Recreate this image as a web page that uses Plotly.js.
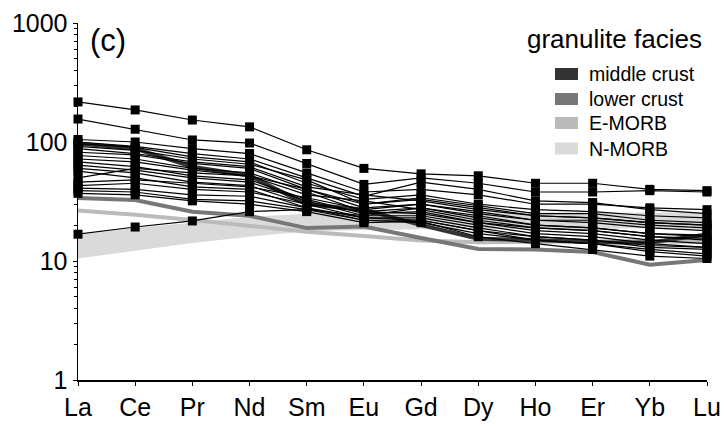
<!DOCTYPE html>
<html>
<head>
<meta charset="utf-8">
<script src="https://cdn.plot.ly/plotly-3.0.1.min.js"></script>
<style>html,body{margin:0;padding:0;background:#fff;}#chart{width:724px;height:426px;}</style>
</head>
<body>
<div id="chart"></div>
<script>
// REE categories
const elements = ["La","Ce","Pr","Nd","Sm","Eu","Gd","Dy","Ho","Er","Yb","Lu"];

// Reference compositions (chondrite-normalized)
const middleCrust = [97, 88, 62, 52, 30, 27, 20, 15.4, 15, 14.4, 14.3, 16.7];
const lowerCrust  = [33.8, 32.6, 25.9, 24, 18.9, 19.5, 15.6, 12.6, 12.5, 11.9, 9.3, 10.2];
const eMORB       = [26.6, 24.5, 22.1, 19.7, 17.6, 16.2, 14.9, 14.4, 14.5, 14.4, 14.7, 14.4];
const nMORBlow    = [10.5, 12.2, 14.2, 16, 17.8, 18.1, 18.5, 18.5, 18.5, 18.6, 18.9, 18.5];
const nMORBhigh   = [16.5, 19, 21, 23.5, 25, 25, 25.5, 25.5, 25.5, 25.5, 25.5, 25.5];

// Granulite-facies samples
const s01 = [217, 186, 153, 134, 86, 60, 54, 52, 45, 45, 40, 39];
const s02 = [156, 128, 104, 98, 66, 44, 50, 45, 38, 38, 39, 38];
const s03 = [105, 100, 88, 80, 55, 38, 40, 36, 30, 30, 28, 27];
const s04 = [100, 92, 80, 72, 50, 35, 46, 40, 32, 31, 27, 25];
const s05 = [97, 90, 75, 68, 45, 33, 36, 30, 27, 26, 24, 23];
const s06 = [92, 85, 72, 65, 48, 30, 34, 29, 25, 25, 22, 21];
const s07 = [88, 80, 68, 62, 42, 36, 32, 27, 24, 23, 21, 20];
const s08 = [82, 78, 66, 60, 40, 28, 30, 25, 22, 21, 19, 18];
const s09 = [77, 72, 60, 55, 38, 26, 28, 23, 20, 19, 17, 16.5];
const s10 = [72, 68, 58, 52, 36, 32, 27, 22, 19, 18, 16, 15];
const s11 = [68, 62, 52, 48, 33, 25, 26, 21, 18, 17, 15, 14];
const s12 = [64, 58, 50, 46, 32, 24, 24, 20, 17, 16, 14, 13];
const s13 = [60, 55, 46, 43, 30, 23, 23, 19, 16, 15, 13, 12.5];
const s14 = [57, 50, 42, 40, 28, 22, 22, 18, 15, 14, 12.5, 11.5];
const s15 = [50, 60, 55, 52, 40, 30, 33, 28, 24, 23, 21, 20];
const s16 = [46, 48, 45, 42, 34, 27, 30, 26, 22, 22, 20, 19];
const s17 = [43, 45, 40, 38, 30, 26, 25, 21, 19, 18, 16, 15.5];
const s18 = [41, 40, 36, 35, 28, 23, 22, 18, 16, 15, 13.5, 13];
const s19 = [39, 38, 33, 32, 27, 22, 21, 17, 15, 14, 12, 11];
const s20 = [37, 36, 32, 30, 26, 21, 21.5, 16, 14, 12.5, 11, 10.5];
const s21 = [16.8, 19.3, 21.7, 26, 27, 24, 28, 24, 20, 19, 17, 16];
const samples = [s01,s02,s03,s04,s05,s06,s07,s08,s09,s10,s11,s12,s13,s14,s15,s16,s17,s18,s19,s20,s21];

// Legend entries
const legendLabels = ["middle crust","lower crust","E-MORB","N-MORB"];
const legendColors = ["#333333","#777777","#bbbbbb","#dadada"];

const FONT = "Liberation Sans, Arial, sans-serif";
const traces = [];
traces.push({x: elements, y: nMORBlow, mode: "lines", line: {width: 0, color: "#dadada"}, showlegend: false, hoverinfo: "skip"});
traces.push({x: elements, y: nMORBhigh, mode: "lines", fill: "tonexty", fillcolor: "#dadada", line: {width: 0, color: "#dadada"}, showlegend: false, hoverinfo: "skip"});
traces.push({x: elements, y: eMORB, mode: "lines", line: {width: 4, color: "#bbbbbb"}, showlegend: false});
traces.push({x: elements, y: lowerCrust, mode: "lines", line: {width: 4, color: "#777777"}, showlegend: false});
traces.push({x: elements, y: middleCrust, mode: "lines", line: {width: 4, color: "#333333"}, showlegend: false});
samples.forEach(s => {
  traces.push({x: elements, y: s, mode: "lines+markers", cliponaxis: false,
    line: {width: 1.2, color: "#000"}, marker: {symbol: "square", size: 9, color: "#000"}, showlegend: false});
});

// plot area pixel geometry helpers (for legend placement)
const L = 78, R = 707, T = 23, B = 380;
const px = v => (v - L) / (R - L);
const py = v => (B - v) / (B - T);

const shapes = [], annotations = [];
const rowY = [74, 99, 123, 148.5];
legendLabels.forEach((lab, i) => {
  shapes.push({type: "rect", xref: "paper", yref: "paper", x0: px(555), x1: px(578),
    y0: py(rowY[i] + 6), y1: py(rowY[i] - 6), fillcolor: legendColors[i], line: {width: 0}});
  annotations.push({xref: "paper", yref: "paper", x: px(587), y: py(rowY[i]), xanchor: "left", yanchor: "middle",
    text: lab, showarrow: false, font: {family: FONT, size: 19.5, color: "#000"}});
});
annotations.push({xref: "paper", yref: "paper", x: px(704), y: py(39), xanchor: "right", yanchor: "middle",
  text: "granulite facies", showarrow: false, font: {family: FONT, size: 26, color: "#000"}});
annotations.push({xref: "paper", yref: "paper", x: px(88), y: py(40), xanchor: "left", yanchor: "middle",
  text: "(c)", showarrow: false, font: {family: FONT, size: 31, color: "#000"}});

const layout = {
  width: 724, height: 426,
  margin: {l: L, r: 724 - R, t: T, b: 426 - B},
  paper_bgcolor: "#fff", plot_bgcolor: "#fff",
  showlegend: false,
  font: {family: FONT, size: 24, color: "#000"},
  xaxis: {type: "category", range: [0, 11], showline: true, linecolor: "#000", linewidth: 1.5,
    ticks: "outside", ticklen: 4, tickcolor: "#000", showgrid: false, zeroline: false,
    tickfont: {family: FONT, size: 25, color: "#000"}},
  yaxis: {type: "log", range: [0, 3], showline: true, linecolor: "#000", linewidth: 1.5,
    tickmode: "array", tickvals: [1, 10, 100, 1000], ticktext: ["1","10","100","1000"],
    ticks: "outside", ticklen: 4, tickcolor: "#000", showgrid: false, zeroline: false,
    minor: {ticks: "outside", ticklen: 3, tickcolor: "#000", dtick: "D1", showgrid: false},
    tickfont: {family: FONT, size: 25, color: "#000"}},
  shapes: shapes, annotations: annotations
};

Plotly.newPlot("chart", traces, layout, {displayModeBar: false, staticPlot: true});
</script>
</body>
</html>
